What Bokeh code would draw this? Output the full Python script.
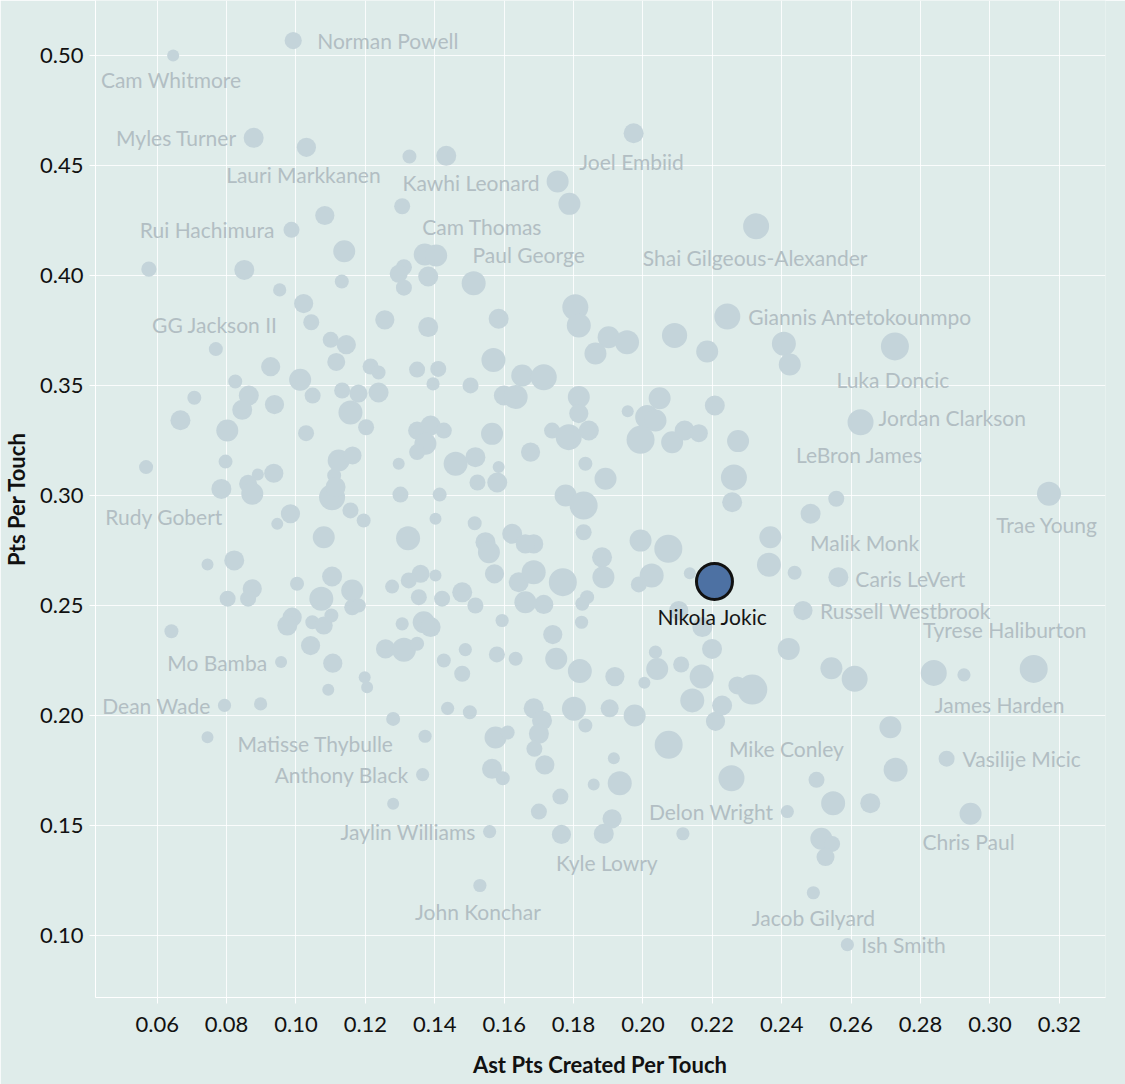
from bokeh.plotting import figure
from bokeh.models import Range1d, FixedTicker, NumeralTickFormatter, ColumnDataSource
from bokeh.embed import file_html
from bokeh.resources import INLINE
from bokeh.core.properties import value

# ---------------- data ----------------
x_ticks = [0.06, 0.08, 0.10, 0.12, 0.14, 0.16, 0.18, 0.20, 0.22, 0.24, 0.26, 0.28, 0.30, 0.32]
y_ticks = [0.10, 0.15, 0.20, 0.25, 0.30, 0.35, 0.40, 0.45, 0.50]

# labelled players
label_names = ["Norman Powell", "Cam Whitmore", "Myles Turner", "Lauri Markkanen", "Joel Embiid",
               "Kawhi Leonard", "Rui Hachimura", "Cam Thomas", "Paul George", "Shai Gilgeous-Alexander",
               "GG Jackson II", "Rudy Gobert", "Mo Bamba", "Dean Wade", "Matisse Thybulle",
               "Anthony Black", "Jaylin Williams", "John Konchar", "Kyle Lowry", "LeBron James",
               "Malik Monk", "Caris LeVert", "Russell Westbrook", "Mike Conley", "Delon Wright",
               "Jacob Gilyard", "Ish Smith", "Trae Young", "Tyrese Haliburton", "James Harden",
               "Vasilije Micic", "Chris Paul", "Giannis Antetokounmpo", "Luka Doncic", "Jordan Clarkson",
               "Nikola Jokic"]
label_ast = [0.0992, 0.0646, 0.0878, 0.1030, 0.1973, 0.1754, 0.0987, 0.1404, 0.1512, 0.2326,
             0.0769, 0.0568, 0.0957, 0.0794, 0.0745, 0.1365, 0.1558, 0.1530, 0.1887, 0.2557,
             0.2483, 0.2563, 0.2461, 0.2255, 0.2416, 0.2491, 0.2589, 0.3170, 0.2838, 0.3126,
             0.2875, 0.2944, 0.2243, 0.2726, 0.2627, 0.2206]
label_pts = [0.5068, 0.5000, 0.4626, 0.4583, 0.4647, 0.4428, 0.4208, 0.4091, 0.3965, 0.4224,
             0.3666, 0.3130, 0.2244, 0.2047, 0.1903, 0.1733, 0.1474, 0.1229, 0.1464, 0.2986,
             0.2918, 0.2630, 0.2478, 0.1716, 0.1565, 0.1196, 0.0960, 0.3009, 0.2195, 0.2213,
             0.1805, 0.1555, 0.3814, 0.3678, 0.3334, 0.2610]
label_touches = [43, 30, 50, 48, 50, 55, 40, 55, 60, 65,
                 35, 35, 30, 33, 30, 33, 33, 33, 50, 40,
                 50, 50, 48, 65, 33, 33, 33, 60, 65, 70,
                 40, 55, 65, 70, 65, 90]

# unlabelled players
other_ast = [
    0.1327, 0.1433, 0.1788, 0.1306, 0.1083, 0.1139, 0.1371, 0.1311, 0.1296, 0.1311,
    0.1381, 0.0576, 0.0851, 0.1132, 0.0953, 0.1022, 0.1044, 0.1100, 0.1145, 0.1116,
    0.0927, 0.0825, 0.1012, 0.0864, 0.0707, 0.0938, 0.1048, 0.1133, 0.0845, 0.0667,
    0.0802, 0.1157, 0.1029, 0.0797, 0.1123, 0.0936, 0.0890, 0.0785, 0.0862, 0.0874,
    0.1110, 0.1104, 0.1114, 0.1157, 0.0984, 0.0946, 0.1080, 0.0822, 0.0745, 0.1003,
    0.1104, 0.0874, 0.0862, 0.0803, 0.1162, 0.1073, 0.1162, 0.0989, 0.0975, 0.1047,
    0.1080, 0.1102, 0.1042, 0.0641, 0.1106, 0.1093, 0.0898, 0.1301, 0.1414, 0.1195,
    0.1323, 0.1402, 0.1515, 0.1523, 0.1580, 0.1546, 0.1556, 0.1623, 0.1685, 0.1661,
    0.1572, 0.1642, 0.1685, 0.1769, 0.1839, 0.1825, 0.1714, 0.1661, 0.1777, 0.1829,
    0.1829, 0.1882, 0.1886, 0.1823, 0.1740, 0.1750, 0.1818, 0.1801, 0.1834, 0.1685,
    0.1709, 0.1700, 0.1687, 0.1717, 0.1594, 0.1579, 0.1633, 0.1488, 0.1426, 0.1479,
    0.1437, 0.1501, 0.1280, 0.1372, 0.1280, 0.1575, 0.1610, 0.1565, 0.1596, 0.1700,
    0.1762, 0.1858, 0.1765, 0.1359, 0.1325, 0.1277, 0.1402, 0.1354, 0.1421, 0.1479,
    0.1517, 0.1181, 0.1306, 0.1368, 0.1388, 0.1258, 0.1311, 0.1349, 0.1198, 0.1205,
    0.2257, 0.2262, 0.1993, 0.2073, 0.2367, 0.2025, 0.1988, 0.2135, 0.2363, 0.2437,
    0.2103, 0.2171, 0.2199, 0.2036, 0.2041, 0.2110, 0.2169, 0.1919, 0.2004, 0.2142,
    0.2228, 0.2209, 0.1904, 0.1976, 0.2272, 0.2315, 0.2420, 0.2543, 0.2610, 0.2074,
    0.1916, 0.1933, 0.2500, 0.2548, 0.1911, 0.2115, 0.2514, 0.2545, 0.2526, 0.2925,
    0.2713, 0.2728, 0.2655, 0.1901, 0.1954, 0.1863, 0.2091, 0.2185, 0.2406, 0.2423,
    0.2048, 0.1956, 0.2012, 0.2036, 0.1993, 0.2084, 0.2120, 0.2161, 0.2207, 0.2274,
    0.1892, 0.1256, 0.1381, 0.1584, 0.1569, 0.1805, 0.1815, 0.1652, 0.1714, 0.1349,
    0.1410, 0.1395, 0.1503, 0.1215, 0.1238, 0.1180, 0.1238, 0.1202, 0.1599, 0.1633,
    0.1565, 0.1349, 0.1388, 0.1426, 0.1373, 0.1349, 0.1676, 0.1738, 0.1786, 0.1844,
    0.1834, 0.1296, 0.1460, 0.1517, 0.1584, 0.1815, 0.1815, 0.1163]
other_pts = [
    0.4541, 0.4544, 0.4326, 0.4315, 0.4273, 0.4111, 0.4096, 0.4038, 0.4008, 0.3945,
    0.3996, 0.4029, 0.4026, 0.3973, 0.3935, 0.3873, 0.3788, 0.3708, 0.3686, 0.3608,
    0.3586, 0.3519, 0.3527, 0.3455, 0.3445, 0.3414, 0.3455, 0.3478, 0.3390, 0.3343,
    0.3296, 0.3378, 0.3284, 0.3155, 0.3160, 0.3102, 0.3096, 0.3031, 0.3054, 0.3009,
    0.3092, 0.2993, 0.3039, 0.2933, 0.2918, 0.2872, 0.2811, 0.2706, 0.2687, 0.2600,
    0.2633, 0.2577, 0.2532, 0.2532, 0.2569, 0.2532, 0.2493, 0.2448, 0.2410, 0.2425,
    0.2410, 0.2456, 0.2319, 0.2384, 0.2239, 0.2118, 0.2054, 0.3005, 0.3005, 0.2887,
    0.2807, 0.2895, 0.2875, 0.3060, 0.3060, 0.2789, 0.2743, 0.2827, 0.2781, 0.2781,
    0.2645, 0.2607, 0.2652, 0.2607, 0.2539, 0.2509, 0.2506, 0.2516, 0.3001, 0.2955,
    0.2834, 0.2720, 0.2630, 0.2425, 0.2369, 0.2259, 0.2203, 0.2032, 0.1956, 0.2034,
    0.1979, 0.1918, 0.1850, 0.1777, 0.2433, 0.2279, 0.2259, 0.2301, 0.2251, 0.2191,
    0.2034, 0.2016, 0.1986, 0.1907, 0.1600, 0.1901, 0.1924, 0.1759, 0.1716, 0.1565,
    0.1633, 0.1688, 0.1461, 0.2645, 0.2615, 0.2587, 0.2637, 0.2539, 0.2532, 0.2561,
    0.2501, 0.2501, 0.2418, 0.2425, 0.2403, 0.2304, 0.2300, 0.2327, 0.2175, 0.2130,
    0.2970, 0.3083, 0.2796, 0.2759, 0.2811, 0.2637, 0.2597, 0.2648, 0.2686, 0.2650,
    0.2478, 0.2403, 0.2304, 0.2289, 0.2213, 0.2233, 0.2178, 0.2178, 0.2150, 0.2070,
    0.2047, 0.1975, 0.2034, 0.2001, 0.2138, 0.2119, 0.2304, 0.2216, 0.2168, 0.1868,
    0.1807, 0.1694, 0.1709, 0.1603, 0.1532, 0.1464, 0.1441, 0.1418, 0.1358, 0.2186,
    0.1948, 0.1755, 0.1603, 0.3720, 0.3697, 0.3646, 0.3728, 0.3655, 0.3690, 0.3596,
    0.3443, 0.3384, 0.3357, 0.3342, 0.3254, 0.3243, 0.3296, 0.3284, 0.3410, 0.3248,
    0.3077, 0.3799, 0.3766, 0.3804, 0.3617, 0.3856, 0.3773, 0.3546, 0.3538, 0.3573,
    0.3576, 0.3508, 0.3501, 0.3587, 0.3560, 0.3464, 0.3469, 0.3311, 0.3455, 0.3448,
    0.3281, 0.3296, 0.3319, 0.3296, 0.3236, 0.3198, 0.3198, 0.3296, 0.3266, 0.3296,
    0.3145, 0.3145, 0.3145, 0.3175, 0.3130, 0.3448, 0.3373, 0.3183]
other_touches = [
    35, 50, 55, 40, 48, 55, 55, 40, 45, 40,
    50, 38, 50, 35, 33, 48, 40, 40, 48, 45,
    48, 35, 55, 50, 35, 48, 40, 40, 50, 50,
    55, 60, 40, 35, 55, 48, 30, 50, 45, 55,
    35, 65, 50, 40, 48, 30, 55, 50, 30, 35,
    50, 48, 40, 40, 55, 60, 40, 48, 50, 35,
    45, 35, 48, 35, 48, 30, 33, 40, 35, 35,
    60, 30, 35, 40, 50, 50, 55, 50, 48, 48,
    48, 50, 60, 70, 35, 35, 48, 55, 55, 70,
    40, 50, 55, 33, 48, 55, 60, 60, 35, 50,
    50, 50, 40, 48, 33, 40, 35, 33, 35, 40,
    33, 35, 35, 33, 30, 55, 35, 50, 35, 40,
    40, 30, 48, 45, 40, 35, 30, 40, 40, 50,
    40, 35, 33, 55, 50, 48, 60, 35, 30, 30,
    50, 65, 55, 70, 55, 60, 40, 30, 60, 35,
    48, 50, 50, 33, 55, 40, 60, 48, 30, 60,
    50, 48, 45, 55, 45, 75, 55, 55, 65, 70,
    30, 60, 40, 60, 48, 33, 55, 40, 45, 33,
    55, 60, 50, 55, 60, 55, 63, 55, 60, 55,
    55, 30, 60, 55, 70, 55, 50, 45, 50, 55,
    55, 48, 50, 50, 60, 65, 60, 55, 65, 40,
    40, 33, 40, 40, 35, 45, 50, 40, 50, 60,
    55, 45, 50, 40, 55, 40, 48, 40, 65, 50,
    35, 30, 60, 50, 30, 55, 48, 45]

# ---------------- styling / layout ----------------
BG = "#dfecea"
PT = "#c4d4da"
LBL = "#b2bec3"
FONT = "Lato"
X0, X1 = 0.04222, 0.33329
Y0, Y1 = 0.07201, 0.52499
FW, FH = 1010, 997
PXX = FW / (X1 - X0)
PXY = FH / (Y1 - Y0)

def size_of(t):
    return t / 2.5

# label placement relative to its point: (align, dx px, dy px down)
label_layout = {
    "Norman Powell": ("left", 24, 0), "Cam Whitmore": ("center", -2, 24),
    "Myles Turner": ("right", -17, 0), "Lauri Markkanen": ("center", -3, 27),
    "Joel Embiid": ("center", -2, 28), "Kawhi Leonard": ("right", -18, 1),
    "Rui Hachimura": ("right", -17, 0), "Cam Thomas": ("center", 46, -29),
    "Paul George": ("center", 55, -29), "Shai Gilgeous-Alexander": ("center", -1, 31),
    "GG Jackson II": ("center", -1, -25), "Rudy Gobert": ("center", 18, 49),
    "Mo Bamba": ("right", -14, 0), "Dean Wade": ("right", -14, 0),
    "Matisse Thybulle": ("left", 30, 6), "Anthony Black": ("right", -14, 0),
    "Jaylin Williams": ("right", -14, 0), "John Konchar": ("center", -2, 26),
    "Kyle Lowry": ("center", 3, 29), "LeBron James": ("center", 23, -44),
    "Malik Monk": ("center", 54, 29), "Caris LeVert": ("left", 17, 1),
    "Russell Westbrook": ("left", 17, 0), "Mike Conley": ("center", 55, -30),
    "Delon Wright": ("right", -14, 0), "Jacob Gilyard": ("center", 0, 25),
    "Ish Smith": ("left", 14, 0), "Trae Young": ("center", -2, 31),
    "Tyrese Haliburton": ("center", 71, -43), "James Harden": ("center", -34, 36),
    "Vasilije Micic": ("left", 16, 0), "Chris Paul": ("center", -2, 28),
    "Giannis Antetokounmpo": ("left", 21, 0), "Luka Doncic": ("center", -2, 33),
    "Jordan Clarkson": ("left", 18, -5), "Nikola Jokic": ("center", -2, 35),
}

p = figure(frame_width=FW, frame_height=FH,
           x_range=Range1d(X0, X1), y_range=Range1d(Y0, Y1),
           output_backend="svg", toolbar_location=None,
           min_border_left=95, min_border_right=20, min_border_top=0, min_border_bottom=87)
p.background_fill_color = BG
p.border_fill_color = BG
p.outline_line_color = None

for ax, ticks in ((p.xaxis, x_ticks), (p.yaxis, y_ticks)):
    ax.ticker = FixedTicker(ticks=ticks)
    ax.formatter = NumeralTickFormatter(format="0.00")
    ax.axis_line_color = "white"
    ax.major_tick_line_color = "white"
    ax.major_tick_out = 6
    ax.major_tick_in = 0
    ax.minor_tick_line_color = None
    ax.major_label_text_font = FONT
    ax.major_label_text_font_size = "22px"
    ax.major_label_text_color = "#111111"
    ax.axis_label_text_font = FONT
    ax.axis_label_text_font_size = "22px"
    ax.axis_label_text_font_style = "bold"
    ax.axis_label_text_color = "#111111"

p.xaxis.axis_label = "Ast Pts Created Per Touch"
p.yaxis.axis_label = "Pts Per Touch"
p.xaxis.major_label_standoff = 13
p.xaxis.axis_label_standoff = 16
p.yaxis.major_label_standoff = 6
p.yaxis.axis_label_standoff = 7

p.xgrid.ticker = FixedTicker(ticks=x_ticks)
p.ygrid.ticker = FixedTicker(ticks=y_ticks)
p.grid.grid_line_color = "white"
p.grid.grid_line_alpha = 0.85
p.grid.grid_line_width = 1

# all grey bubbles
all_x = other_ast + [x for x, n in zip(label_ast, label_names) if n != "Nikola Jokic"]
all_y = other_pts + [y for y, n in zip(label_pts, label_names) if n != "Nikola Jokic"]
all_t = other_touches + [t for t, n in zip(label_touches, label_names) if n != "Nikola Jokic"]
src = ColumnDataSource(dict(x=all_x, y=all_y, s=[size_of(t) for t in all_t]))
p.scatter("x", "y", size="s", source=src, fill_color=PT, line_color=None)

# labels
groups = {"left": dict(x=[], y=[], t=[]), "center": dict(x=[], y=[], t=[]), "right": dict(x=[], y=[], t=[])}
for n, x, y in zip(label_names, label_ast, label_pts):
    if n == "Nikola Jokic":
        continue
    al, dx, dy = label_layout[n]
    groups[al]["x"].append(x + dx / PXX)
    groups[al]["y"].append(y - dy / PXY)
    groups[al]["t"].append(n)
for al, g in groups.items():
    p.text(x=g["x"], y=g["y"], text=g["t"], text_align=al, text_baseline="middle",
           text_font=value(FONT), text_font_size="21px", text_color=LBL)

# highlighted player
ji = label_names.index("Nikola Jokic")
jx, jy, jt = label_ast[ji], label_pts[ji], label_touches[ji]
p.scatter(x=[jx], y=[jy], size=size_of(jt), fill_color="#4d71a3", line_color="#111111", line_width=3)
al, dx, dy = label_layout["Nikola Jokic"]
p.text(x=[jx + dx / PXX], y=[jy - dy / PXY], text=["Nikola Jokic"], text_align=al,
       text_baseline="middle", text_font=value(FONT), text_font_size="21px", text_color="#151515")

html = file_html(p, INLINE, title="Pts Per Touch vs Ast Pts Created Per Touch")
html = html.replace("<body>", '<body style="background-color:#dfecea;">', 1)
open("out.html", "w").write(html)
